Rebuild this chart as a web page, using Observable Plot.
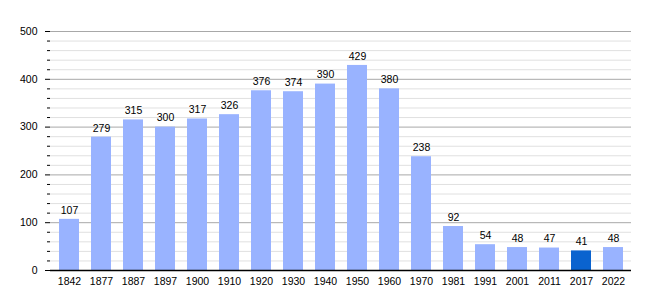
<!DOCTYPE html>
<html><head><meta charset="utf-8">
<script src="https://cdn.jsdelivr.net/npm/d3@7"></script>
<script src="https://cdn.jsdelivr.net/npm/@observablehq/plot@0.6"></script>
<style>body{margin:0;background:#fff;font-family:"Liberation Sans",Arial,sans-serif;}</style>
</head><body><div id="chart"></div>
<script>
const years = ["1842","1877","1887","1897","1900","1910","1920","1930","1940","1950","1960","1970","1981","1991","2001","2011","2017","2022"];
const population = [107,279,315,300,317,326,376,374,390,429,380,238,92,54,48,47,41,48];
const highlightYear = "2017";
const majorTicks = [0,100,200,300,400,500];
const minorTicks = d3.range(0, 501, 20).filter(v => v % 100 !== 0);

const data = years.map((y, i) => ({year: y, value: population[i]}));

const chart = Plot.plot({
  width: 660, height: 300,
  marginLeft: 50, marginRight: 29, marginTop: 31, marginBottom: 30,
  style: {fontFamily: "'Liberation Sans', Arial, sans-serif", fontSize: "10px", color: "#000"},
  x: {domain: years, paddingInner: 0.39, paddingOuter: 0.04, label: null},
  y: {domain: [0, 500], label: null},
  marks: [
    Plot.ruleY(minorTicks, {stroke: "#e0e0e0", strokeWidth: 1}),
    Plot.ruleY(majorTicks, {stroke: "#a8a8a8", strokeWidth: 1}),
    Plot.barY(data, {x: "year", y: "value", fill: d => d.year === highlightYear ? "#0a63cf" : "#99b3ff"}),
    Plot.text(data, {x: "year", y: "value", text: d => String(d.value), dy: -9, fill: "#000", fontSize: 10.5}),
    Plot.axisY({ticks: minorTicks, tickSize: 3, tickFormat: () => "", stroke: "#000"}),
    Plot.axisY({ticks: majorTicks, tickSize: 5, tickPadding: 8, stroke: "#000", fill: "#000", fontSize: 10.5}),
    Plot.axisX({tickSize: 0, tickPadding: 7, fill: "#000", fontSize: 10.5}),
    Plot.ruleX([0], {frameAnchor: "left", stroke: "#000", strokeWidth: 1.5}),
    Plot.ruleY([0], {stroke: "#000", strokeWidth: 1.5})
  ]
});
document.getElementById("chart").append(chart);
</script></body></html>
